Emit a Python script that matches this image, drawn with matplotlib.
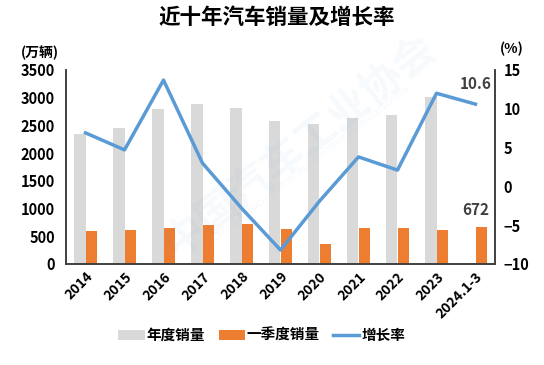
import numpy as np
import matplotlib.pyplot as plt

plt.rcParams['font.family'] = ['Noto Sans CJK SC', 'DejaVu Sans']

years = ['2014', '2015', '2016', '2017', '2018', '2019', '2020', '2021', '2022', '2023', '2024.1-3']
annual_sales = [2349, 2460, 2803, 2888, 2808, 2577, 2531, 2628, 2686, 3009, np.nan]
q1_sales = [596, 612, 654, 702, 720, 637, 367, 648, 648, 607, 672]
growth = [6.9, 4.7, 13.7, 3.0, -2.8, -8.2, -1.9, 3.8, 2.1, 12.0, 10.6]

x = np.arange(len(years))
w = 0.3

fig = plt.figure(figsize=(5.44, 3.65), dpi=100)
ax = fig.add_axes([66 / 544, 1 - 264 / 365, 429 / 544, 194 / 365])
ax2 = ax.twinx()

ax.bar(x - w / 2, annual_sales, width=w, color='#D9D9D9', label='年度销量', zorder=2)
ax.bar(x + w / 2, q1_sales, width=w, color='#ED7D31', label='一季度销量', zorder=2)
ax2.plot(x, growth, color='#5B9BD5', lw=2.5, label='增长率', zorder=3)

ax.set_xlim(-0.5, len(years) - 0.5)
ax.set_ylim(0, 3500)
ax.set_yticks(range(0, 3501, 500))
ax2.set_ylim(-10, 15)
ax2.set_yticks(range(-10, 16, 5))

ax.set_xticks(x)
ax.set_xticklabels(years, rotation=45, ha='right', rotation_mode='anchor', fontweight='bold', fontsize=10)
for lbl in ax.get_yticklabels() + ax2.get_yticklabels():
    lbl.set_fontweight('bold')
    lbl.set_fontsize(10.5)
ax.tick_params(axis='both', length=0, pad=4)
ax2.tick_params(axis='y', length=0, pad=6)
ax.tick_params(axis='y', pad=8)

for a in (ax, ax2):
    a.spines['top'].set_visible(False)
    for s in ('left', 'right', 'bottom'):
        a.spines[s].set_color('#404040')
        a.spines[s].set_linewidth(1.2)

ax.text(-0.06, 1.09, '(万辆)', transform=ax.transAxes, ha='center', va='center', fontsize=10, fontweight='bold')
ax2.text(1.04, 1.11, '(%)', transform=ax.transAxes, ha='center', va='center', fontsize=10, fontweight='bold')

ax2.annotate(f'{growth[-1]}', (x[-1], growth[-1]), xytext=(0, 9), textcoords='offset points',
             ha='center', va='bottom', fontsize=11, fontweight='bold', color='#404040')
ax.annotate(f'{q1_sales[-1]}', (x[-1] + w / 2, q1_sales[-1]), xytext=(-4, 6), textcoords='offset points',
            ha='center', va='bottom', fontsize=11, fontweight='bold', color='#404040')

# faint watermark
fig.text(0.55, 0.6, '中国汽车工业协会', rotation=38, fontsize=30, fontweight='bold',
         color='#5B9BD5', alpha=0.05, ha='center', va='center', zorder=0)
fig.text(0.57, 0.55, 'China Association of Automobile Manufacturers', rotation=38, fontsize=8,
         color='#5B9BD5', alpha=0.06, ha='center', va='center', zorder=0)

fig.suptitle('近十年汽车销量及增长率', x=277 / 544, y=1 - 17 / 365, va='center', fontsize=15.5, fontweight='bold')

h1, l1 = ax.get_legend_handles_labels()
h2, l2 = ax2.get_legend_handles_labels()
fig.legend(h1 + h2, l1 + l2, loc='center', bbox_to_anchor=(262 / 544, 1 - 335 / 365), ncol=3, frameon=False,
           prop={'weight': 'bold', 'size': 10.5}, handlelength=1.8, handleheight=0.7, columnspacing=0.9,
           handletextpad=0.15)

fig.savefig('out.png', dpi=100)
